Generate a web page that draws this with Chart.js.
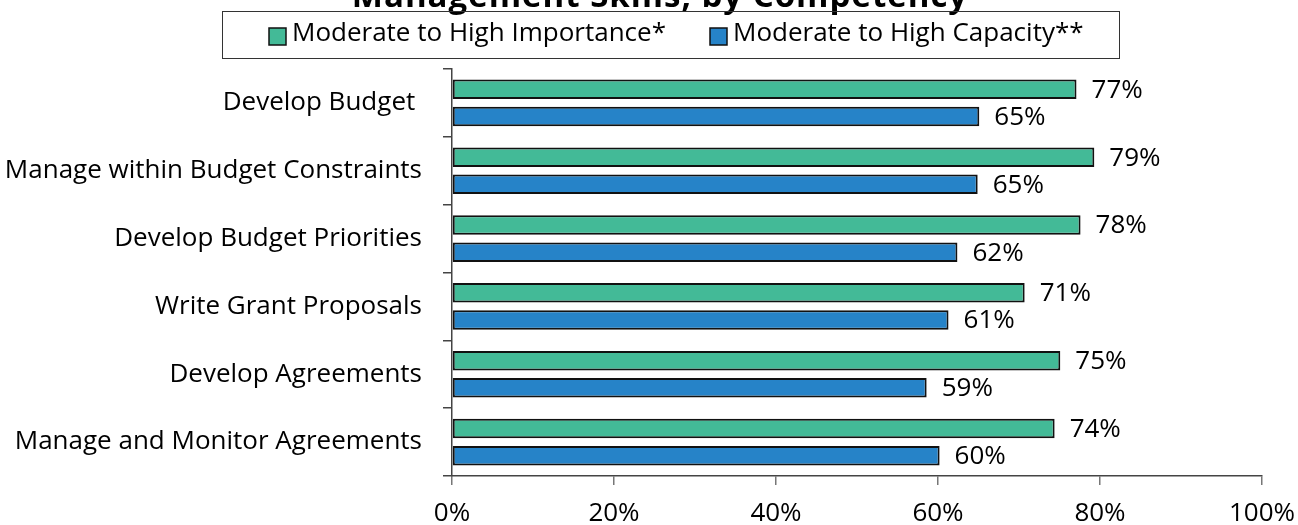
<!DOCTYPE html>
<html>
<head>
<meta charset="utf-8">
<script src="https://cdn.jsdelivr.net/npm/chart.js@4"></script>
<style>
  html, body { margin: 0; padding: 0; background: #fff; }
  #wrap { width: 1298px; height: 525px; position: relative; }
</style>
</head>
<body>
<div id="wrap"><canvas id="graphCanvas" width="1298" height="525"></canvas></div>
<script>
var title = 'Management Skills, by Competency';
var competencies = [
    'Develop Budget ',
    'Manage within Budget Constraints',
    'Develop Budget Priorities',
    'Write Grant Proposals',
    'Develop Agreements',
    'Manage and Monitor Agreements'
];
var importance = [77.1, 79.3, 77.6, 70.7, 75.1, 74.4];
var capacity = [65.1, 64.9, 62.4, 61.3, 58.6, 60.2];
var seriesNames = ['Moderate to High Importance*', 'Moderate to High Capacity**'];
var xTicks = [0, 20, 40, 60, 80, 100];

var FONT = '"Open Sans", sans-serif';
var green = '#43BA97';
var blue = '#2683C8';

// title, framed legend and value labels, drawn on top of the chart
var extras = {
    id: 'extras',
    afterDatasetsDraw: function (chart) {
        var ctx = chart.ctx;
        ctx.save();
        ctx.fillStyle = '#000';
        ctx.textBaseline = 'middle';
        ctx.textAlign = 'left';
        ctx.font = '26px ' + FONT;
        chart.data.datasets.forEach(function (ds, di) {
            var meta = chart.getDatasetMeta(di);
            meta.data.forEach(function (bar, i) {
                ctx.fillText(Math.round(ds.data[i]) + '%', bar.x + 15, bar.y + 1);
            });
        });
        ctx.restore();
    },
    afterDraw: function (chart) {
        var ctx = chart.ctx;
        ctx.save();
        // title (top is cut off in the original)
        ctx.font = 'bold 33px ' + FONT;
        ctx.letterSpacing = '1px';
        ctx.textAlign = 'center';
        ctx.textBaseline = 'alphabetic';
        ctx.fillStyle = '#000';
        ctx.fillText(title, 660, 7);
        ctx.letterSpacing = '0px';

        // legend frame
        ctx.strokeStyle = '#333';
        ctx.lineWidth = 1;
        ctx.strokeRect(222.5, 11.5, 897, 47);
        var items = [
            { x: 269, color: green, text: seriesNames[0] },
            { x: 710, color: blue, text: seriesNames[1] }
        ];
        ctx.font = '26px ' + FONT;
        ctx.textAlign = 'left';
        ctx.textBaseline = 'middle';
        items.forEach(function (it) {
            ctx.fillStyle = it.color;
            ctx.fillRect(it.x, 28, 17, 17);
            ctx.strokeStyle = '#111';
            ctx.lineWidth = 1.5;
            ctx.strokeRect(it.x, 28, 17, 17);
            ctx.fillStyle = '#000';
            ctx.fillText(it.text, it.x + 23, 34);
        });
        ctx.restore();
    }
};

var chartdata = {
    labels: competencies,
    datasets: [
        {
            label: seriesNames[0],
            backgroundColor: green,
            borderColor: '#111',
            borderWidth: 2,
            borderSkipped: false,
            data: importance
        },
        {
            label: seriesNames[1],
            backgroundColor: blue,
            borderColor: '#111',
            borderWidth: 2,
            borderSkipped: false,
            data: capacity
        }
    ]
};

var barGraph = new Chart(document.getElementById('graphCanvas'), {
    type: 'bar',
    data: chartdata,
    plugins: [extras],
    options: {
        indexAxis: 'y',
        responsive: false,
        animation: false,
        categoryPercentage: 0.8,
        barPercentage: 0.72,
        layout: { padding: { top: 69, right: 36, left: 0, bottom: 0 } },
        plugins: {
            legend: { display: false },
            title: { display: false },
            tooltip: { enabled: false }
        },
        scales: {
            x: {
                min: 0,
                max: 100,
                afterFit: function (scale) {
                    scale.height = 49;
                    scale.paddingLeft = 0;
                    scale.paddingRight = 0;
                },
                afterBuildTicks: function (scale) {
                    scale.ticks = xTicks.map(function (v) { return { value: v }; });
                },
                ticks: {
                    color: '#000',
                    padding: 13,
                    font: { family: FONT, size: 26 },
                    callback: function (v) { return v + '%'; }
                },
                grid: { drawOnChartArea: false, tickLength: 9, color: '#777', lineWidth: 1.5 },
                border: { color: '#444', width: 1.5 }
            },
            y: {
                afterFit: function (scale) {
                    scale.width = 452;
                    scale.paddingTop = 0;
                    scale.paddingBottom = 0;
                },
                ticks: {
                    color: '#000',
                    padding: 21,
                    font: { family: FONT, size: 26 }
                },
                grid: { drawOnChartArea: false, offset: true, tickLength: 9, color: '#444', lineWidth: 1.5 },
                border: { color: '#444', width: 1.5 }
            }
        }
    }
});
</script>
</body>
</html>
